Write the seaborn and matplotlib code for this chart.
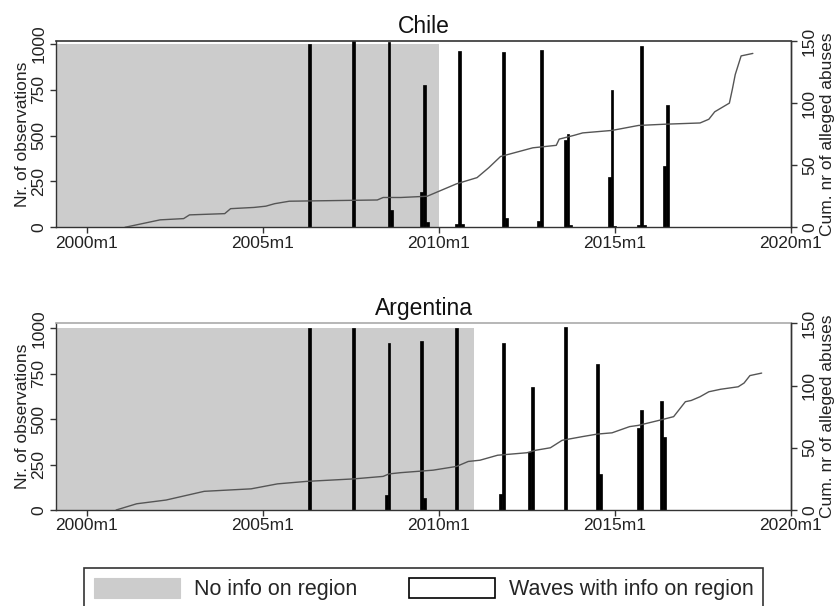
import matplotlib
matplotlib.use("Agg")
import matplotlib.pyplot as plt
from matplotlib.patches import Patch
import seaborn as sns

# Monthly time index (Stata %tm style): 0 = 1960m1, 480 = 2000m1
tick_months = [480, 540, 600, 660, 720]
tick_labels = ["2000m1", "2005m1", "2010m1", "2015m1", "2020m1"]
obs_ticks = [0, 250, 500, 750, 1000]
cum_ticks = [0, 50, 100, 150]

countries = ["Chile", "Argentina"]

# Months without regional information (start, end) and the shading height
chile_noinfo = (469.5, 600)
argentina_noinfo = (469.5, 612)
noinfo_level = 1000

# Survey waves: month index and number of observations
chile_wave_month = [556, 571, 583, 584, 594, 595, 596, 606, 607, 608,
                    622, 623, 634, 635, 643, 644, 645, 658, 659, 660,
                    668, 669, 670, 677, 678]
chile_wave_obs = [1000, 1016, 1012, 94, 194, 778, 31, 16, 963, 16,
                  956, 49, 34, 969, 477, 508, 10, 273, 750, 8,
                  10, 990, 15, 337, 668]

argentina_wave_month = [556, 571, 582, 583, 594, 595, 606, 621, 622,
                        631, 632, 643, 654, 655, 668, 669, 676, 677]
argentina_wave_obs = [1000, 1000, 83, 917, 932, 64, 1000, 88, 917,
                      321, 679, 1004, 803, 198, 450, 550, 600, 403]

# Cumulative number of alleged abuses
chile_cum_month = [493, 505, 513, 515, 527, 529, 537, 541, 544, 549, 579, 581,
                   587, 596, 600, 606, 613, 617, 621, 632, 640, 641, 646,
                   649, 659, 668, 677, 689, 692, 694, 699, 700, 701, 703, 707]
chile_cum_value = [0, 6, 7, 10, 11, 15, 16, 17, 19, 21, 22, 24,
                   24, 25, 29, 35, 40, 48, 57, 64, 66, 71, 74,
                   76, 78, 82, 83, 84, 87, 93, 100, 111, 123, 138, 140]

argentina_cum_month = [490, 497, 507, 520, 536, 545, 555, 571, 581, 583, 587,
                       598, 606, 610, 614, 620, 630, 633, 638, 642, 649, 654,
                       659, 665, 668, 675, 680, 684, 686, 689, 692, 696, 702,
                       704, 706, 710]
argentina_cum_value = [0, 5, 8, 15, 17, 21, 23, 25, 27, 29, 30,
                       32, 35, 39, 40, 44, 46, 48, 50, 56, 59, 61,
                       62, 67, 68, 72, 75, 87, 88, 91, 95, 97, 99,
                       102, 108, 110]

panels = [
    (countries[0], chile_noinfo, chile_wave_month, chile_wave_obs,
     chile_cum_month, chile_cum_value, 1016, "#333333"),
    (countries[1], argentina_noinfo, argentina_wave_month, argentina_wave_obs,
     argentina_cum_month, argentina_cum_value, 1027, "#aaaaaa"),
]

sns.set_theme(style="ticks")
plt.rcParams["font.family"] = ["Liberation Sans", "DejaVu Sans"]

GRAY = "#cccccc"
LINE = "#555555"
EDGE = "#333333"
W, H = 839, 606

fig = plt.figure(figsize=(W / 100, H / 100), dpi=100)


def axes_px(left, top, right, bottom):
    return fig.add_axes([left / W, 1 - bottom / H, (right - left) / W, (bottom - top) / H])


boxes = [(56, 41, 791, 227.3), (56, 323.3, 791, 510)]

for (name, noinfo, wm, wo, cm, cv, ymax, topcol), box in zip(panels, boxes):
    ax = axes_px(*box)
    ax.bar(noinfo[0], noinfo_level, width=noinfo[1] - noinfo[0], align="edge",
           color=GRAY, linewidth=0, zorder=1)
    ax.bar(wm, wo, width=1.0, color="black", edgecolor="black",
           linewidth=0.5, zorder=2)
    ax.set_ylim(0, ymax)

    ax2 = ax.twinx()
    sns.lineplot(x=cm, y=cv, ax=ax2, color=LINE, linewidth=1.0)
    ax2.set_ylim(0, 150)
    ax.set_xlim(469.5, 720)

    ax.set_xticks(tick_months, labels=tick_labels)
    ax.set_yticks(obs_ticks, labels=[str(v) for v in obs_ticks],
                  rotation=90, va="center")
    ax2.set_yticks(cum_ticks, labels=[str(v) for v in cum_ticks],
                   rotation=90, va="center")

    ax.tick_params(axis="x", direction="out", length=4.5, width=1,
                   color=EDGE, labelsize=12.5, pad=1.5, labelcolor="#222222")
    ax.tick_params(axis="y", direction="out", length=4.5, width=1,
                   color=EDGE, labelsize=12.5, pad=2.5, labelcolor="#222222")
    ax2.tick_params(axis="y", direction="out", length=4.5, width=1,
                    color=EDGE, labelsize=12.5, pad=3.4, labelcolor="#222222",
                    right=True)

    for side in ["left", "bottom", "right"]:
        ax.spines[side].set_color(EDGE)
        ax.spines[side].set_linewidth(1.0)
    ax.spines["top"].set_color(topcol)
    ax.spines["top"].set_linewidth(1.2)
    for side in ["left", "bottom", "top"]:
        ax2.spines[side].set_visible(False)
    ax2.spines["right"].set_color(EDGE)
    ax2.spines["right"].set_linewidth(1.0)

    ax.set_xlabel("")
    ax.set_ylabel("Nr. of observations", fontsize=12.5, color="#222222")
    ax.yaxis.set_label_coords(-0.0348, 0.5)
    ax2.set_ylabel("Cum. nr of alleged abuses", fontsize=12.5,
                   color="#222222", rotation=90)
    ax2.yaxis.set_label_coords(1.039, 0.5)

    ax.set_title(name, fontsize=16.5, pad=5.8, color="#111111")

handles = [
    Patch(facecolor=GRAY, edgecolor=GRAY, linewidth=0.8),
    Patch(facecolor="white", edgecolor="black", linewidth=1.2),
]
labels = ["No info on region", "Waves with info on region"]
leg = fig.legend(handles, labels, loc="upper center",
                 bbox_to_anchor=(423.5 / W, 1 - 568 / H), ncol=2,
                 fontsize=15.5, frameon=True, fancybox=False,
                 handlelength=4.0, handleheight=1.05, handletextpad=0.65,
                 columnspacing=2.4, borderpad=0.45, borderaxespad=0)
leg.get_frame().set_edgecolor(EDGE)
leg.get_frame().set_linewidth(1.2)
leg.get_frame().set_alpha(1)

fig.savefig("out.png", dpi=100)
